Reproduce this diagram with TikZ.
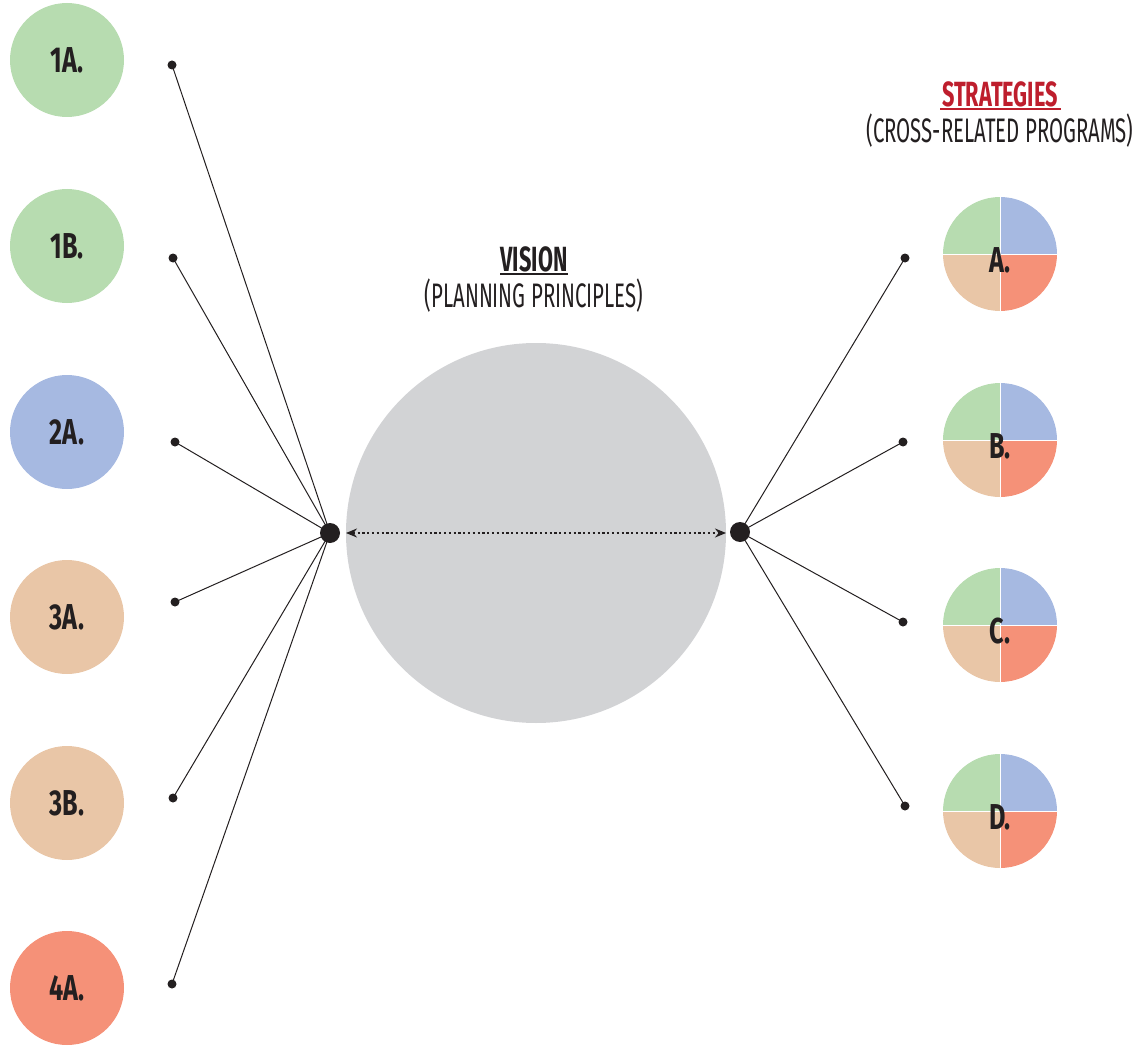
\documentclass[tikz,border=0pt]{standalone}
\usepackage{fontspec}
\setmainfont{Fira Sans}
\usetikzlibrary{arrows.meta}
\definecolor{cgreen}{RGB}{183,220,176}
\definecolor{cblue}{RGB}{166,185,225}
\definecolor{ctan}{RGB}{233,198,167}
\definecolor{csalmon}{RGB}{245,145,120}
\definecolor{cgray}{RGB}{210,211,213}
\definecolor{cred}{RGB}{190,30,45}
\definecolor{cink}{RGB}{35,31,32}
\newcommand{\cond}[2][0.62]{\scalebox{#1}[1]{#2}}
\begin{document}
\begin{tikzpicture}[x=1pt,y=-1pt,
  disc/.style={circle,minimum size=114pt,inner sep=0pt,draw=none},
  lab/.style={font=\fontsize{36}{36}\selectfont\bfseries,text=cink},
  hub/.style={circle,fill=cink,minimum size=20pt,inner sep=0pt},
  tip/.style={circle,fill=cink,minimum size=9pt,inner sep=0pt},
  link/.style={draw=cink,line width=1pt},
  head/.style={font=\fontsize{35}{35}\selectfont\bfseries,text=cink},
  sub/.style={font=\fontsize{34}{34}\selectfont,text=cink}]
\useasboundingbox (0,0) rectangle (1141,1046);
% left circles
\node[disc,fill=cgreen] (c1a) at (67,60) {};
\node[lab] at (c1a) {\cond[0.7]{1A.}};
\node[disc,fill=cgreen] (c1b) at (67,246) {};
\node[lab] at (c1b) {\cond[0.7]{1B.}};
\node[disc,fill=cblue] (c2a) at (67,432) {};
\node[lab] at (c2a) {\cond[0.7]{2A.}};
\node[disc,fill=ctan] (c3a) at (67,617) {};
\node[lab] at (c3a) {\cond[0.7]{3A.}};
\node[disc,fill=ctan] (c3b) at (67,803) {};
\node[lab] at (c3b) {\cond[0.7]{3B.}};
\node[disc,fill=csalmon] (c4a) at (67,988) {};
\node[lab] at (c4a) {\cond[0.7]{4A.}};
% big circle
\node[circle,fill=cgray,minimum size=380pt,inner sep=0pt] (big) at (536,533) {};
% hubs
\node[hub] (hl) at (330,533) {};
\node[hub] (hr) at (740,532) {};
% left tips
\node[tip] (l1) at (172,65) {};
\node[tip] (l2) at (173,258) {};
\node[tip] (l3) at (175,442) {};
\node[tip] (l4) at (175,602) {};
\node[tip] (l5) at (173,798) {};
\node[tip] (l6) at (172,984) {};
\foreach \t in {l1,l2,l3,l4,l5,l6} \draw[link] (\t.center) -- (hl.center);
% right tips
\node[tip] (r1) at (905,258) {};
\node[tip] (r2) at (903,442) {};
\node[tip] (r3) at (903,622) {};
\node[tip] (r4) at (905,806) {};
\foreach \t in {r1,r2,r3,r4} \draw[link] (\t.center) -- (hr.center);
% dotted double arrow
\coordinate (al) at (346,533);
\coordinate (ar) at (726,533);
\draw[cink,line width=2.2pt,dash pattern=on 2.2pt off 2.6pt,{Stealth[length=11pt,width=9pt]}-{Stealth[length=11pt,width=9pt]}] (al) -- (ar);
% pies
\foreach \n/\y/\l in {pa/254/A., pb/440/B., pc/625/C., pd/811/D.}{
  \fill[cblue] (1000,\y) -- ++(0,-57) arc[start angle=90,end angle=0,radius=57pt] -- cycle;
  \fill[csalmon] (1000,\y) -- ++(57,0) arc[start angle=0,end angle=-90,radius=57pt] -- cycle;
  \fill[ctan] (1000,\y) -- ++(0,57) arc[start angle=-90,end angle=-180,radius=57pt] -- cycle;
  \fill[cgreen] (1000,\y) -- ++(-57,0) arc[start angle=180,end angle=90,radius=57pt] -- cycle;
  \draw[white,line width=0.6pt] (1000,\y-57) -- (1000,\y+57) (943,\y) -- (1057,\y);
  \node[lab] (\n) at (1000,\y+6) {\cond[0.7]{\l}};
}
% headings
\node[head] (vis) at (534,259) {\cond[0.62]{VISION}};
\draw[cink,line width=1.6pt] (500,274) -- (568,274);
\node[sub] (visub) at (534,296) {\cond[0.6]{(PLANNING PRINCIPLES)}};
\node[head,text=cred] (str) at (1000,94) {\cond[0.62]{STRATEGIES}};
\draw[cred,line width=1.6pt] (940,109) -- (1061,109);
\node[sub] (strsub) at (1000,131) {\cond[0.6]{(CROSS-RELATED PROGRAMS)}};
\end{tikzpicture}
\end{document}
